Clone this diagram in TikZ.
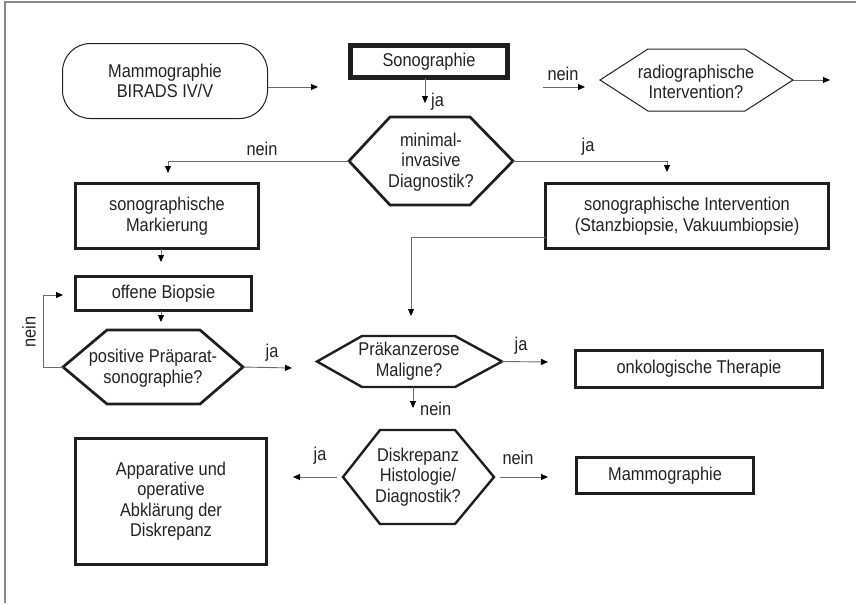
\documentclass[tikz,border=0pt]{standalone}
\usepackage{fontspec}
\setmainfont{Liberation Sans}[FakeStretch=0.885]
\usetikzlibrary{arrows.meta}
\definecolor{boxc}{HTML}{1E1E1E}
\definecolor{txtc}{HTML}{222222}
\definecolor{connc}{HTML}{6A6A6A}
\definecolor{framec}{HTML}{8A8A8A}
\newcommand{\mainfs}{\fontsize{18.5}{20.5}\selectfont}
\newcommand{\hexnode}[8][]{%
  \draw[hexline,#1] (#3,{(#7+#8)/2}) -- (#4,#7) -- (#5,#7) -- (#6,{(#7+#8)/2}) -- (#5,#8) -- (#4,#8) -- cycle;
  \coordinate (#2-w) at (#3,{(#7+#8)/2});
  \coordinate (#2-e) at (#6,{(#7+#8)/2});
  \coordinate (#2-s) at ({(#3+#6)/2},#8);
  \coordinate (#2-n) at ({(#3+#6)/2},#7);
}
\tikzset{
  box/.style={draw=boxc, line width=3pt, inner sep=0pt, outer sep=0pt, align=center, text=txtc, font=\mainfs},
  txt/.style={inner sep=0pt, align=center, text=txtc, font=\mainfs},
  lbl/.style={inner sep=0pt, text=txtc, font=\mainfs},
  hexline/.style={draw=boxc, line width=2.7pt},
  thinhex/.style={line width=1pt},
  conn/.style={draw=connc, line width=0.9pt, -{Triangle[length=7pt,width=6pt,color=black]}},
}
\begin{document}
\begin{tikzpicture}[x=1pt,y=-1pt]
\useasboundingbox (0,0) rectangle (856,603);
% frame
\draw[framec, line width=2pt] (5,603) -- (5,2) -- (856,2);

% nodes
\node[draw=boxc, line width=1pt, rounded corners=28pt, minimum width=205pt, minimum height=75pt, inner sep=0pt, outer sep=0pt, align=center, text=txtc, font=\mainfs] (start) at (165,81) {Mammographie\\BIRADS IV/V};
\node[box, line width=5pt, minimum width=157pt, minimum height=32pt] (sono) at (429,61.5) {Sonographie};

\hexnode[thinhex]{radh}{600}{648}{745}{793}{49}{111}
\node[txt] (rad) at (696,82) {radiographische\\Intervention?};

\hexnode{midh}{349}{390}{470}{513}{117}{205}
\node[txt] (mid) at (431,162) {minimal-\\invasive\\Diagnostik?};

\node[box, minimum width=183pt, minimum height=65pt] (mark) at (167,216) {sonographische\\Markierung};
\node[box, minimum width=283pt, minimum height=65pt] (inter) at (687,216) {sonographische Intervention\\(Stanzbiopsie, Vakuumbiopsie)};
\node[box, minimum width=176pt, minimum height=34pt] (off) at (163.5,293.5) {offene Biopsie};

\hexnode{posh}{63}{107}{200}{243}{330}{404}
\node[txt] (pos) at (153,368) {positive Präparat-\\sonographie?};

\hexnode[line width=2.4pt]{prah}{317}{362}{455}{502}{336}{387}
\node[txt] (pra) at (409,361) {Präkanzerose\\Maligne?};

\node[box, minimum width=247pt, minimum height=37pt] (onko) at (699,369) {onkologische Therapie};

\hexnode[line width=2.4pt]{dish}{343}{380}{455}{494}{430}{524}
\node[txt] (dis) at (418,477) {Diskrepanz\\Histologie/\\Diagnostik?};

\node[box, minimum width=177pt, minimum height=36pt] (mammo) at (665,475.5) {Mammographie};
\node[box, minimum width=191pt, minimum height=126pt] (app) at (171,501) {Apparative und\\operative\\Abklärung der\\Diskrepanz};

% free ends of connectors
\coordinate (a1) at (318,87);
\coordinate (a2) at (425,103);
\coordinate (a3) at (168,173);
\coordinate (a4) at (667,172);
\coordinate (a5) at (543,87);
\coordinate (a6) at (585,87);
\coordinate (a7) at (830,80);
\coordinate (a8) at (161,262);
\coordinate (a9) at (161,322);
\coordinate (a10) at (63,295);
\coordinate (a11) at (292,368);
\coordinate (a12) at (545,237);
\coordinate (a13) at (411,316);
\coordinate (a14) at (548,362);
\coordinate (a15) at (413,408);
\coordinate (a17) at (293,474);
\coordinate (a19) at (548,474);

% connectors
\draw[conn] (start.east |- a1) -- (a1);
\draw[conn] (sono.south -| a2) -- (a2);
\node[lbl, anchor=west] (l1) at (431,102) {ja};
\draw[conn] (a5) -- (a6);
\node[lbl] (l2) at (563,74) {nein};
\draw[conn] (radh-e) -- (a7);
\draw[conn] (midh-w) -| (a3);
\node[lbl] (l3) at (262,149) {nein};
\draw[conn] (midh-e) -| (a4);
\node[lbl] (l4) at (588,147) {ja};
\draw[conn] (mark.south -| a8) -- (a8);
\draw[conn] (off.south -| a9) -- (a9);
\draw[conn] (posh-w) -- ++(-20,0) |- (a10);
\node[lbl, rotate=90] (l5) at (29,332) {nein};
\draw[conn] (posh-e) -- (a11);
\node[lbl] (l6) at (272,353) {ja};
\draw[conn] (inter.west |- a12) -| (a13);
\draw[conn] (prah-e) -- (a14);
\node[lbl] (l7) at (521,346) {ja};
\draw[conn] (prah-s -| a15) -- (a15);
\node[lbl, anchor=west] (l8) at (420,409) {nein};
\draw[conn] ([xshift=-6pt]dish-w) -- (dish-w -| a17);
\node[lbl] (l9) at (320,456) {ja};
\draw[conn] ([xshift=6pt]dish-e) -- (dish-e -| a19);
\node[lbl] (l10) at (518,458) {nein};
\end{tikzpicture}
\end{document}
